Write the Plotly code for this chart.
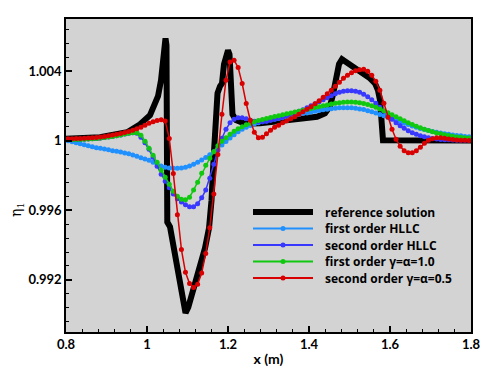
import plotly.graph_objects as go

# cell-centre grid of the numerical solutions
x_cells = [round(0.805 + 0.01 * i, 3) for i in range(100)]

first_hllc = [
    1.00000, 0.99994, 0.99989, 0.99983, 0.99977, 0.99971, 0.99966, 0.99960, 0.99956, 0.99952,
    0.99948, 0.99943, 0.99939, 0.99935, 0.99930, 0.99925, 0.99918, 0.99910, 0.99902, 0.99895,
    0.99887, 0.99876, 0.99865, 0.99855, 0.99848, 0.99843, 0.99841, 0.99841, 0.99843, 0.99848,
    0.99855, 0.99865, 0.99876, 0.99889, 0.99903, 0.99920, 0.99937, 0.99955, 0.99975, 0.99995,
    1.00016, 1.00034, 1.00052, 1.00066, 1.00078, 1.00088, 1.00096, 1.00103, 1.00109, 1.00114,
    1.00119, 1.00124, 1.00128, 1.00133, 1.00137, 1.00142, 1.00147, 1.00151, 1.00156, 1.00160,
    1.00165, 1.00170, 1.00174, 1.00178, 1.00181, 1.00184, 1.00187, 1.00189, 1.00190, 1.00190,
    1.00189, 1.00187, 1.00183, 1.00179, 1.00173, 1.00167, 1.00159, 1.00151, 1.00143, 1.00135,
    1.00126, 1.00118, 1.00109, 1.00101, 1.00093, 1.00085, 1.00078, 1.00071, 1.00064, 1.00059,
    1.00053, 1.00049, 1.00044, 1.00040, 1.00037, 1.00033, 1.00030, 1.00028, 1.00025, 1.00023,
]

second_hllc = [
    1.00006, 1.00006, 1.00007, 1.00007, 1.00009, 1.00010, 1.00011, 1.00013, 1.00016, 1.00018,
    1.00021, 1.00025, 1.00029, 1.00033, 1.00039, 1.00043, 1.00046, 1.00043, 1.00020, 0.99989,
    0.99951, 0.99905, 0.99853, 0.99807, 0.99767, 0.99730, 0.99693, 0.99667, 0.99647, 0.99632,
    0.99621, 0.99621, 0.99638, 0.99672, 0.99716, 0.99784, 0.99865, 0.99945, 1.00014, 1.00066,
    1.00103, 1.00124, 1.00132, 1.00132, 1.00126, 1.00118, 1.00112, 1.00109, 1.00109, 1.00112,
    1.00118, 1.00124, 1.00129, 1.00135, 1.00144, 1.00152, 1.00161, 1.00170, 1.00178, 1.00190,
    1.00201, 1.00213, 1.00224, 1.00236, 1.00247, 1.00259, 1.00270, 1.00279, 1.00284, 1.00287,
    1.00287, 1.00284, 1.00279, 1.00267, 1.00253, 1.00236, 1.00216, 1.00193, 1.00170, 1.00147,
    1.00124, 1.00103, 1.00086, 1.00072, 1.00057, 1.00046, 1.00037, 1.00029, 1.00023, 1.00017,
    1.00013, 1.00010, 1.00007, 1.00006, 1.00005, 1.00004, 1.00003, 1.00003, 1.00003, 1.00003,
]

first_ga10 = [
    1.00006, 1.00006, 1.00007, 1.00007, 1.00009, 1.00010, 1.00011, 1.00013, 1.00016, 1.00018,
    1.00021, 1.00025, 1.00029, 1.00033, 1.00039, 1.00043, 1.00046, 1.00046, 1.00032, 0.99997,
    0.99957, 0.99917, 0.99876, 0.99830, 0.99790, 0.99750, 0.99710, 0.99681, 0.99664, 0.99661,
    0.99675, 0.99716, 0.99761, 0.99813, 0.99859, 0.99899, 0.99937, 0.99971, 0.99997, 1.00017,
    1.00037, 1.00055, 1.00069, 1.00080, 1.00092, 1.00101, 1.00109, 1.00116, 1.00122, 1.00128,
    1.00134, 1.00139, 1.00144, 1.00149, 1.00155, 1.00160, 1.00165, 1.00170, 1.00175, 1.00180,
    1.00186, 1.00191, 1.00196, 1.00201, 1.00206, 1.00211, 1.00216, 1.00219, 1.00221, 1.00222,
    1.00222, 1.00221, 1.00218, 1.00214, 1.00209, 1.00201, 1.00193, 1.00183, 1.00172, 1.00161,
    1.00149, 1.00138, 1.00126, 1.00115, 1.00103, 1.00093, 1.00083, 1.00074, 1.00066, 1.00059,
    1.00052, 1.00045, 1.00040, 1.00034, 1.00030, 1.00026, 1.00022, 1.00020, 1.00017, 1.00016,
]

second_ga05 = [
    1.00011, 1.00012, 1.00013, 1.00013, 1.00014, 1.00016, 1.00017, 1.00019, 1.00021, 1.00024,
    1.00029, 1.00033, 1.00037, 1.00042, 1.00047, 1.00053, 1.00060, 1.00069, 1.00078, 1.00089,
    1.00101, 1.00109, 1.00116, 1.00121, 1.00114, 1.00013, 0.99811, 0.99575, 0.99374, 0.99243,
    0.99179, 0.99156, 0.99175, 0.99239, 0.99352, 0.99500, 0.99693, 0.99921, 1.00152, 1.00348,
    1.00453, 1.00463, 1.00421, 1.00329, 1.00214, 1.00118, 1.00049, 1.00017, 1.00020, 1.00040,
    1.00060, 1.00078, 1.00089, 1.00103, 1.00115, 1.00126, 1.00138, 1.00152, 1.00167, 1.00181,
    1.00195, 1.00213, 1.00230, 1.00250, 1.00270, 1.00290, 1.00313, 1.00336, 1.00359, 1.00376,
    1.00391, 1.00402, 1.00408, 1.00411, 1.00399, 1.00376, 1.00342, 1.00290, 1.00216, 1.00135,
    1.00066, 1.00009, 0.99968, 0.99943, 0.99931, 0.99931, 0.99943, 0.99963, 0.99986, 1.00003,
    1.00011, 1.00017, 1.00017, 1.00014, 1.00010, 1.00007, 1.00004, 1.00003, 1.00002, 1.00001,
]

ref_x = [0.800, 0.884, 0.951, 0.983, 1.0074, 1.0198, 1.0272, 1.0346, 1.0395, 1.0432,
         1.0457, 1.0481, 1.0501, 1.0568, 1.0691, 1.0815, 1.0896, 1.0951, 1.1020, 1.1143,
         1.1309, 1.1432, 1.1531, 1.1593, 1.1642, 1.1691, 1.1741, 1.1802, 1.1852, 1.1901,
         1.1963, 1.2000, 1.2037, 1.2074, 1.2111, 1.2198, 1.2420, 1.2790, 1.3284, 1.3778,
         1.4198, 1.4395, 1.4519, 1.4593, 1.4667, 1.4741, 1.4815, 1.4963, 1.5136, 1.5309,
         1.5506, 1.5630, 1.5704, 1.5753, 1.5790, 1.5827, 1.8000]
ref_y = [1.00011, 1.00020, 1.00049, 1.00095, 1.00147, 1.00204, 1.00256, 1.00348, 1.00451, 1.00549,
         1.00589, 1.00549, 0.99532, 0.99505, 0.99342, 0.99141, 0.99037, 0.99009, 0.99043, 0.99141,
         0.99279, 0.99382, 0.99497, 0.99658, 0.99888, 1.00147, 1.00273, 1.00313, 1.00330, 1.00440,
         1.00514, 1.00520, 1.00497, 1.00348, 1.00152, 1.00118, 1.00098, 1.00101, 1.00112, 1.00124,
         1.00138, 1.00158, 1.00198, 1.00267, 1.00359, 1.00440, 1.00468, 1.00445, 1.00422, 1.00394,
         1.00359, 1.00330, 1.00290, 1.00233, 1.00118, 1.00003, 1.00001]

x_ticks = [0.8, 1.0, 1.2, 1.4, 1.6, 1.8]
x_labels = ["0.8", "1", "1.2", "1.4", "1.6", "1.8"]
y_ticks = [0.992, 0.996, 1.0, 1.004]
y_labels = ["0.992", "0.996", "1", "1.004"]

FONT = "Lato"
LEG_FONT = "Open Sans"
W, H = 498, 374
ML, MR, MT, MB = 66, 27, 19, 42
PW, PH = W - ML - MR, H - MT - MB


def px_to_paper(px, py):
    return (px - ML) / PW, (H - MB - py) / PH


fig = go.Figure()
fig.add_trace(go.Scatter(x=ref_x, y=ref_y, mode="lines", name="reference solution",
                         line=dict(color="black", width=6), showlegend=False))
series = [
    ("first order HLLC", first_hllc, "#2090ff"),
    ("second order HLLC", second_hllc, "#3838ff"),
    ("first order γ=α=1.0", first_ga10, "#10c810"),
    ("second order γ=α=0.5", second_ga05, "#d80000"),
]
for name, vals, col in series:
    fig.add_trace(go.Scatter(x=x_cells, y=vals, mode="lines+markers", name=name,
                             line=dict(color=col, width=1.5),
                             marker=dict(color=col, size=5), showlegend=False))

# custom legend (line sample + marker + text), placed in paper coordinates
legend_items = [("reference solution", "black", 6, False)] + [
    (name, col, 2, True) for name, _, col in series]
shapes, annotations = [], []
row_y = [212, 228.5, 245, 261.5, 278]
for (name, col, lw, mk), ry in zip(legend_items, row_y):
    x0, y0 = px_to_paper(253, ry)
    x1, _ = px_to_paper(313, ry)
    shapes.append(dict(type="line", xref="paper", yref="paper", x0=x0, x1=x1, y0=y0, y1=y0,
                       line=dict(color=col, width=lw)))
    if mk:
        cx0, cy0 = px_to_paper(280.5, ry - 2.5)
        cx1, cy1 = px_to_paper(285.5, ry + 2.5)
        shapes.append(dict(type="circle", xref="paper", yref="paper", x0=cx0, x1=cx1, y0=cy0, y1=cy1,
                           fillcolor=col, line=dict(color=col, width=0)))
    tx, ty = px_to_paper(323, ry)
    annotations.append(dict(text=name, xref="paper", yref="paper", x=tx, y=ty,
                            xanchor="left", yanchor="middle", showarrow=False,
                            font=dict(family=LEG_FONT, size=12, color="black", weight="bold")))

# y-axis title placed as in the reference
ax_, ay_ = px_to_paper(17, 210)
annotations.append(dict(text="η<sub>1</sub>", xref="paper", yref="paper", x=ax_, y=ay_,
                        xanchor="center", yanchor="middle", showarrow=False, textangle=-90,
                        font=dict(family="DejaVu Serif", size=14, color="black")))

axis_common = dict(
    showline=True, linecolor="black", linewidth=1.5, mirror=True,
    ticks="inside", ticklen=6, tickwidth=1.5, tickcolor="black",
    showgrid=False, zeroline=False, automargin=False,
    tickfont=dict(family=FONT, size=13, color="black", weight="bold"),
)

fig.update_xaxes(range=[0.8, 1.8], tickvals=x_ticks, ticktext=x_labels,
                 minor=dict(ticks="inside", ticklen=3, dtick=0.04, tick0=0.8,
                            tickcolor="black", tickwidth=1),
                 title=dict(text="x (m)", font=dict(family=FONT, size=14, color="black", weight="bold"),
                            standoff=3),
                 **axis_common)
fig.update_yaxes(range=[0.989, 1.007], tickvals=y_ticks, ticktext=y_labels,
                 minor=dict(ticks="inside", ticklen=3, dtick=0.0008, tick0=0.992,
                            tickcolor="black", tickwidth=1),
                 **axis_common)

fig.update_layout(
    width=W, height=H,
    margin=dict(l=ML, r=MR, t=MT, b=MB),
    paper_bgcolor="white", plot_bgcolor="#d3d3d3",
    showlegend=False,
    shapes=shapes, annotations=annotations,
)

fig.write_html("out.html", config={"displayModeBar": False},
               post_script="document.body.style.margin='0';")
